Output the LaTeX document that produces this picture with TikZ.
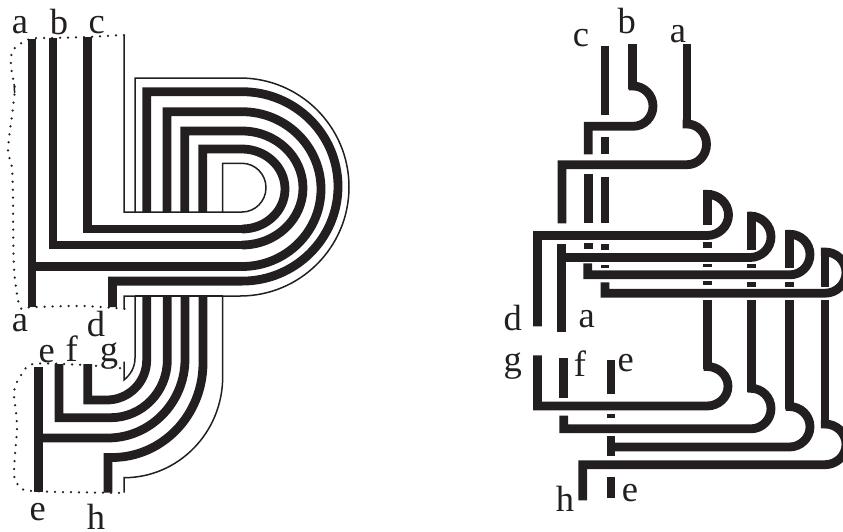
\documentclass[tikz,border=0pt]{standalone}
\usepackage{fontspec}
\setmainfont{Liberation Serif}
\definecolor{ink}{HTML}{231F20}
\tikzset{
  strand/.style={draw=ink,line width=8.8pt,line cap=butt,line join=miter},
  thinline/.style={draw=ink,line width=1.5pt,line join=miter},
  dotline/.style={draw=ink,line width=2.5pt,line cap=round,dash pattern=on 0pt off 8pt},
  lab/.style={inner sep=0pt,anchor=base,text=ink,font=\fontsize{36.5}{36.5}\selectfont}
}
\newcommand{\AR}[2]{arc[start angle=90,end angle=-90,x radius=#1pt,y radius=#2pt]}
\newcommand{\QR}[2]{arc[start angle=0,end angle=-90,x radius=#1pt,y radius=#2pt]}
\begin{document}
\begin{tikzpicture}[x=1pt,y=-1pt]
\useasboundingbox (0,0) rectangle (843,531);
% ---------- left figure, upper stack
\draw[strand] (32,39) -- (32,307);
\draw[strand] (32,266.5) -- (242,266.5);
\draw[strand] (53,38) -- (53,245) -- (242,245);
\draw[strand] (87.3,37) -- (87.3,229) -- (242,229);
\draw[strand] (146.7,212) -- (146.7,91.7) -- (242,91.7) \AR{96}{94.7} -- (112.5,281.1) -- (112.5,307);
\draw[strand] (167,212) -- (167,111.7) -- (242,111.7) \AR{79}{77.4};
\draw[strand] (184.7,212) -- (184.7,131) -- (242,131) \AR{61}{57};
\draw[strand] (202.8,212) -- (202.8,149) -- (242,149) \AR{43}{40};
\draw[thinline] (124,35) -- (124,212) -- (242,212) arc[start angle=-90,end angle=90,x radius=24pt,y radius=24.35pt] -- (222.7,163.3) -- (222.7,212);
\draw[thinline] (135,212) -- (135,78) -- (240,78) \AR{109}{109} -- (124,296) -- (124,309);
% ---------- left figure, lower stack
\draw[thinline] (135,296) -- (135,358) .. controls (135,368) and (130,375) .. (124,380) -- (124,361.7);
\draw[strand] (146.7,296) -- (146.7,360) \QR{40}{40} -- (87.8,400) -- (87.8,364);
\draw[strand] (167.3,296) -- (167.3,360) \QR{56.7}{57.7} -- (59,417.7) -- (59,364);
\draw[strand] (185,296) -- (185,359) \QR{77.4}{79} -- (38.7,438);
\draw[strand] (38.7,366.7) -- (38.7,491.7);
\draw[strand] (203,296) -- (203,363) \QR{91}{94.5} -- (108,457.5) -- (108,492.7);
\draw[thinline] (222.7,296) -- (222.7,376.7) \QR{98.7}{101} -- (124,477.7) -- (124,492.7);
\draw[thinline] (135,296) -- (222.7,296);
% ---------- dotted outlines
\draw[dotline] plot[smooth] coordinates {(124,35) (87,37) (53,38) (30,39) (13,50) (11,67) (14.7,88) (13,107) (8,150) (12,167) (13,200) (14,268) (20,307) (32,307) (83,306) (127,309)};
\draw[dotline] plot[smooth] coordinates {(120,368) (83,365) (33,364) (20,377) (14,392) (17,425) (14,472) (18,485) (33,491) (124,493)};
\draw[draw=ink,line width=1.5pt] (14.2,84) -- (14.6,93);
% ---------- left labels
\node[lab] (la1) at (20,33.3) {a};
\node[lab] (lb1) at (59,34) {b};
\node[lab] (lc1) at (96.7,33) {c};
\node[lab] (la2) at (20,331) {a};
\node[lab] (ld1) at (96,336) {d};
\node[lab] (le1) at (46.7,362) {e};
\node[lab] (lf1) at (71.7,361.7) {f};
\node[lab] (lg1) at (109,361.7) {g};
\node[lab] (le2) at (37.7,520) {e};
\node[lab] (lh1) at (96,529) {h};
% ---------- right figure, top
\draw[strand] (632.7,44) -- (632.7,89.3);
\draw[strand] (628.5,86) -- (633,86) \AR{20}{20.15} -- (588.3,126.3) -- (588.3,154.3);
\draw[strand] (687,44) -- (687,127.3);
\draw[strand] (682.7,124) -- (687,124) \AR{19.5}{20.35} -- (562,164.7) -- (562,223.3);
\draw[strand] (605,45.7) -- (605,115.3);
\draw[strand] (605,136.7) -- (605,154.3);
\draw[strand] (605,176.7) -- (605,222.7);
\draw[strand] (588.3,174) -- (588.3,222.7);
\draw[strand] (588.3,243.3) -- (588.3,249);
\draw[strand] (605,244.3) -- (605,250);
\draw[strand] (605,265) -- (605,268.3);
% ---------- right figure, four upper loops
\draw[strand] (707.7,190) -- (707.7,224.7);
\draw[strand] (703.5,194.3) -- (707,194.3) \AR{21.5}{20.6} -- (537.5,235.5) -- (537.5,326.3);
\draw[strand] (751.7,211.7) -- (751.7,250.3);
\draw[strand] (747.5,216) -- (750,216) \AR{21}{20.75} -- (561.7,257.5);
\draw[strand] (561.7,244.3) -- (561.7,332);
\draw[strand] (789.7,230) -- (789.7,268.3);
\draw[strand] (785.5,234.3) -- (790,234.3) \AR{20}{20.25} -- (587.8,274.8) -- (587.8,263.3);
\draw[strand] (825,248) -- (825,287.3);
\draw[strand] (820.8,252) -- (825,252) \AR{21}{20.6} -- (605,293.2) -- (605,282.3);
% ---------- right figure, broken verticals
\draw[strand] (707.7,241.7) -- (707.7,248);
\draw[strand] (707.7,264) -- (707.7,266.7);
\draw[strand] (707.7,280.7) -- (707.7,285);
\draw[strand] (751.7,264) -- (751.7,268.3);
\draw[strand] (751.7,281.7) -- (751.7,287);
\draw[strand] (789.7,281.7) -- (789.7,287);
% ---------- right figure, four lower loops
\draw[strand] (707.7,300) -- (707.7,369);
\draw[strand] (703.5,366.5) -- (707,366.5) \AR{21}{19.75} -- (537.5,406) -- (537.5,355.3);
\draw[strand] (751.7,300) -- (751.7,391.7);
\draw[strand] (747.5,388.3) -- (751,388.3) \AR{20}{20.25} -- (563.7,428.8) -- (563.7,415.7);
\draw[strand] (789.7,300) -- (789.7,409.3);
\draw[strand] (785.5,406.5) -- (789.3,406.5) \AR{20.7}{20.25} -- (611,447);
\draw[strand] (825,300) -- (825,426.7);
\draw[strand] (820.8,424) -- (825,424) \AR{21}{20.35} -- (582.8,464.7) -- (582.8,500.3);
\draw[strand] (563.7,358.3) -- (563.7,397.7);
\draw[strand] (611,360) -- (611,394);
\draw[strand] (611,414) -- (611,418.3);
\draw[strand] (611,435.7) -- (611,456);
\draw[strand] (611,476.7) -- (611,497.7);
% ---------- right labels
\node[lab] (rc) at (581,46) {c};
\node[lab] (rb) at (626.7,33.5) {b};
\node[lab] (ra1) at (678,42.3) {a};
\node[lab] (rd) at (512.7,330.7) {d};
\node[lab] (ra2) at (586.7,327.7) {a};
\node[lab] (rg) at (512.7,371) {g};
\node[lab] (rf) at (580,376) {f};
\node[lab] (re1) at (625.7,371) {e};
\node[lab] (rh) at (565,511) {h};
\node[lab] (re2) at (630,501.7) {e};
\end{tikzpicture}
\end{document}
